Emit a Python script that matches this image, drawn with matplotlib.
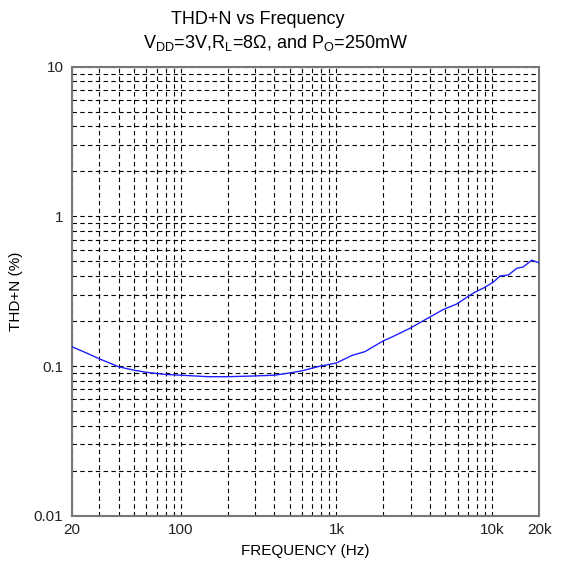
from matplotlib import pyplot as plt
from matplotlib.ticker import FixedLocator, FixedFormatter, NullFormatter
import numpy as np

plt.rcParams['font.family'] = ['Liberation Sans', 'DejaVu Sans']
plt.rcParams['mathtext.fontset'] = 'custom'
plt.rcParams['mathtext.rm'] = 'Liberation Sans'
plt.rcParams['mathtext.it'] = 'Liberation Sans'

# THD+N curve
freq = [20, 25, 30, 40, 50, 60, 80, 100, 150, 200, 300, 400, 500, 600, 784, 1000,
        1251, 1524, 2000, 2200, 2965, 3890, 4856, 5916, 6860, 7750, 8770, 10170,
        11220, 12690, 14360, 15830, 17920, 20000]
thdn = [0.135, 0.122, 0.112, 0.099, 0.094, 0.091, 0.088, 0.087, 0.085, 0.085,
        0.086, 0.087, 0.090, 0.093, 0.100, 0.105, 0.1176, 0.125, 0.1476, 0.154,
        0.179, 0.21, 0.239, 0.26, 0.288, 0.312, 0.332, 0.364, 0.40, 0.406, 0.45,
        0.46, 0.51, 0.49]

x_ticks = [20, 100, 1000, 10000, 20000]
x_labels = ['20', '100', '1k', '10k', '20k']
y_ticks = [0.01, 0.1, 1, 10]
y_labels = ['0.01', '0.1', '1', '10']

fig = plt.figure(figsize=(5.61, 5.70), dpi=100)
ax = fig.add_axes([0.128, 0.095, 0.833, 0.788])

ax.plot(freq, thdn, color='#2020ff', linewidth=1.0, zorder=3)

ax.set_xscale('log')
ax.set_yscale('log')
ax.set_xlim(20, 20000)
ax.set_ylim(0.01, 10)

ax.xaxis.set_major_locator(FixedLocator(x_ticks))
ax.xaxis.set_major_formatter(FixedFormatter(x_labels))
ax.yaxis.set_major_locator(FixedLocator(y_ticks))
ax.yaxis.set_major_formatter(FixedFormatter(y_labels))
ax.xaxis.set_minor_formatter(NullFormatter())
ax.yaxis.set_minor_formatter(NullFormatter())

ax.grid(True, which='both', color='black', linestyle=(0, (4, 3)), linewidth=0.8)
ax.tick_params(which='both', length=0, labelsize=11, colors='#222222')
ax.tick_params(axis='x', pad=5)
ax.tick_params(axis='y', pad=6)

for s in ax.spines.values():
    s.set_color('#777777')
    s.set_linewidth(1.5)

ax.set_xlabel('FREQUENCY (Hz)', fontsize=11, labelpad=5)
ax.set_ylabel('THD+N (%)', fontsize=11, labelpad=8)

fig.text(0.46, 0.966, 'THD+N vs Frequency', ha='center', va='center', fontsize=13)
fig.text(0.492, 0.925, r'V$_{DD}$=3V,R$_{L}$=8Ω, and P$_{O}$=250mW',
         ha='center', va='center', fontsize=13)

fig.savefig('out.png', dpi=100)
